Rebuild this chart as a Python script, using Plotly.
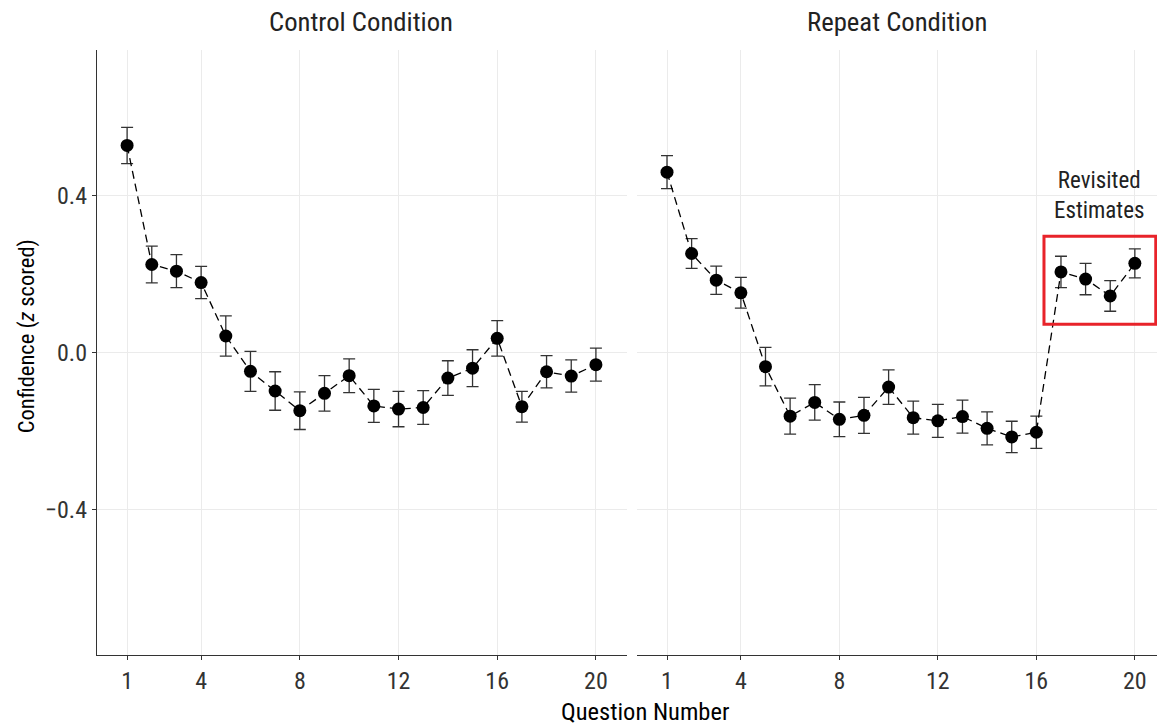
import plotly.graph_objects as go

# Question numbers and per-question mean confidence (z scored) with standard errors
questions = list(range(1, 21))

control_mean = [0.527, 0.224, 0.207, 0.178, 0.042, -0.048, -0.098, -0.148, -0.104, -0.059,
                -0.136, -0.144, -0.140, -0.065, -0.040, 0.036, -0.138, -0.049, -0.060, -0.031]
control_se = [0.046, 0.047, 0.042, 0.041, 0.051, 0.051, 0.049, 0.048, 0.045, 0.043,
              0.042, 0.045, 0.043, 0.044, 0.047, 0.045, 0.039, 0.041, 0.041, 0.042]

repeat_mean = [0.459, 0.252, 0.184, 0.152, -0.036, -0.162, -0.127, -0.170, -0.160, -0.088,
               -0.166, -0.174, -0.163, -0.193, -0.215, -0.203, 0.205, 0.187, 0.144, 0.227]
repeat_se = [0.042, 0.038, 0.036, 0.039, 0.049, 0.046, 0.045, 0.044, 0.046, 0.044,
             0.042, 0.042, 0.042, 0.042, 0.040, 0.041, 0.040, 0.040, 0.039, 0.037]

x_ticks = [1, 4, 8, 12, 16, 20]
y_ticks = [-0.4, 0.0, 0.4]
y_tick_text = ["\u22120.4", "0.0", "0.4"]
panel_titles = ["Control Condition", "Repeat Condition"]

# Revisited-estimates highlight (questions 17-20 in the repeat condition)
box_x = [16.31, 20.85]
box_y = [0.072, 0.296]

FONT = "Liberation Sans Narrow, Arial Narrow, Roboto Condensed, DejaVu Sans Condensed, sans-serif"
INK = "#222222"
AXIS = "#333333"
GRID = "#ebebeb"

fig = go.Figure()


def add_panel(mean, se, xaxis, yaxis):
    fig.add_trace(go.Scatter(
        x=questions, y=mean, mode="lines+markers",
        xaxis=xaxis, yaxis=yaxis,
        line=dict(color="black", width=1.3, dash="8px,5px"),
        marker=dict(color="black", size=13),
        error_y=dict(type="data", array=se, visible=True,
                     color=AXIS, thickness=1.3, width=6),
        showlegend=False, hoverinfo="skip",
    ))


add_panel(control_mean, control_se, "x", "y")
add_panel(repeat_mean, repeat_se, "x2", "y2")

xaxis_common = dict(
    tickvals=x_ticks, ticktext=[str(t) for t in x_ticks],
    showgrid=True, gridcolor=GRID, gridwidth=1.2,
    zeroline=False, showline=True, linecolor=AXIS, linewidth=1.3,
    ticks="outside", ticklen=4, tickcolor=AXIS, tickwidth=1.2,
    tickfont=dict(family=FONT, size=24, color=AXIS),
)
yaxis_common = dict(
    range=[-0.77, 0.77],
    tickvals=y_ticks, ticktext=y_tick_text,
    showgrid=True, gridcolor=GRID, gridwidth=1.2,
    zeroline=False,
    tickfont=dict(family=FONT, size=24, color=AXIS),
)

fig.update_layout(
    width=1157, height=726,
    margin=dict(l=97, r=0, t=50, b=71),
    paper_bgcolor="white", plot_bgcolor="white",
    font=dict(family=FONT, color=INK),
    xaxis=dict(domain=[0, 0.5], range=[-0.22, 21.26], **xaxis_common),
    xaxis2=dict(domain=[0.5094, 1.0], range=[-0.22, 20.9], anchor="y2", **xaxis_common),
    yaxis=dict(domain=[0, 1], showline=True, linecolor=AXIS, linewidth=1.3,
               ticks="outside", ticklen=4, tickcolor=AXIS, tickwidth=1.2,
               **yaxis_common),
    yaxis2=dict(domain=[0, 1], anchor="x2", matches="y", showline=False,
                showticklabels=False, ticks="", **yaxis_common),
)

# Highlight box around the revisited estimates
fig.add_shape(type="rect", xref="x2", yref="y2",
              x0=box_x[0], x1=box_x[1], y0=box_y[0], y1=box_y[1],
              line=dict(color="#e8232a", width=3), fillcolor="rgba(0,0,0,0)")

annotations = [
    dict(text=panel_titles[0], x=0.2491, y=1.046, xref="paper", yref="paper",
         showarrow=False, xanchor="center", yanchor="middle",
         font=dict(family=FONT, size=26.7, color=INK)),
    dict(text=panel_titles[1], x=0.7547, y=1.046, xref="paper", yref="paper",
         showarrow=False, xanchor="center", yanchor="middle",
         font=dict(family=FONT, size=26.7, color=INK)),
    dict(text="Question Number", x=0.517, y=-0.0926, xref="paper", yref="paper",
         showarrow=False, xanchor="center", yanchor="middle",
         font=dict(family=FONT, size=24.5, color="black")),
    dict(text="Confidence (<i>z</i> scored)", x=-0.0665, y=0.526, xref="paper", yref="paper",
         showarrow=False, xanchor="center", yanchor="middle", textangle=-90,
         font=dict(family=FONT, size=22.5, color="black")),
    dict(text="Revisited<br>Estimates", x=18.54, y=0.40, xref="x2", yref="y2",
         showarrow=False, xanchor="center", yanchor="middle",
         font=dict(family=FONT, size=23, color=INK)),
]
fig.update_layout(annotations=annotations)

fig.write_html("out.html")
